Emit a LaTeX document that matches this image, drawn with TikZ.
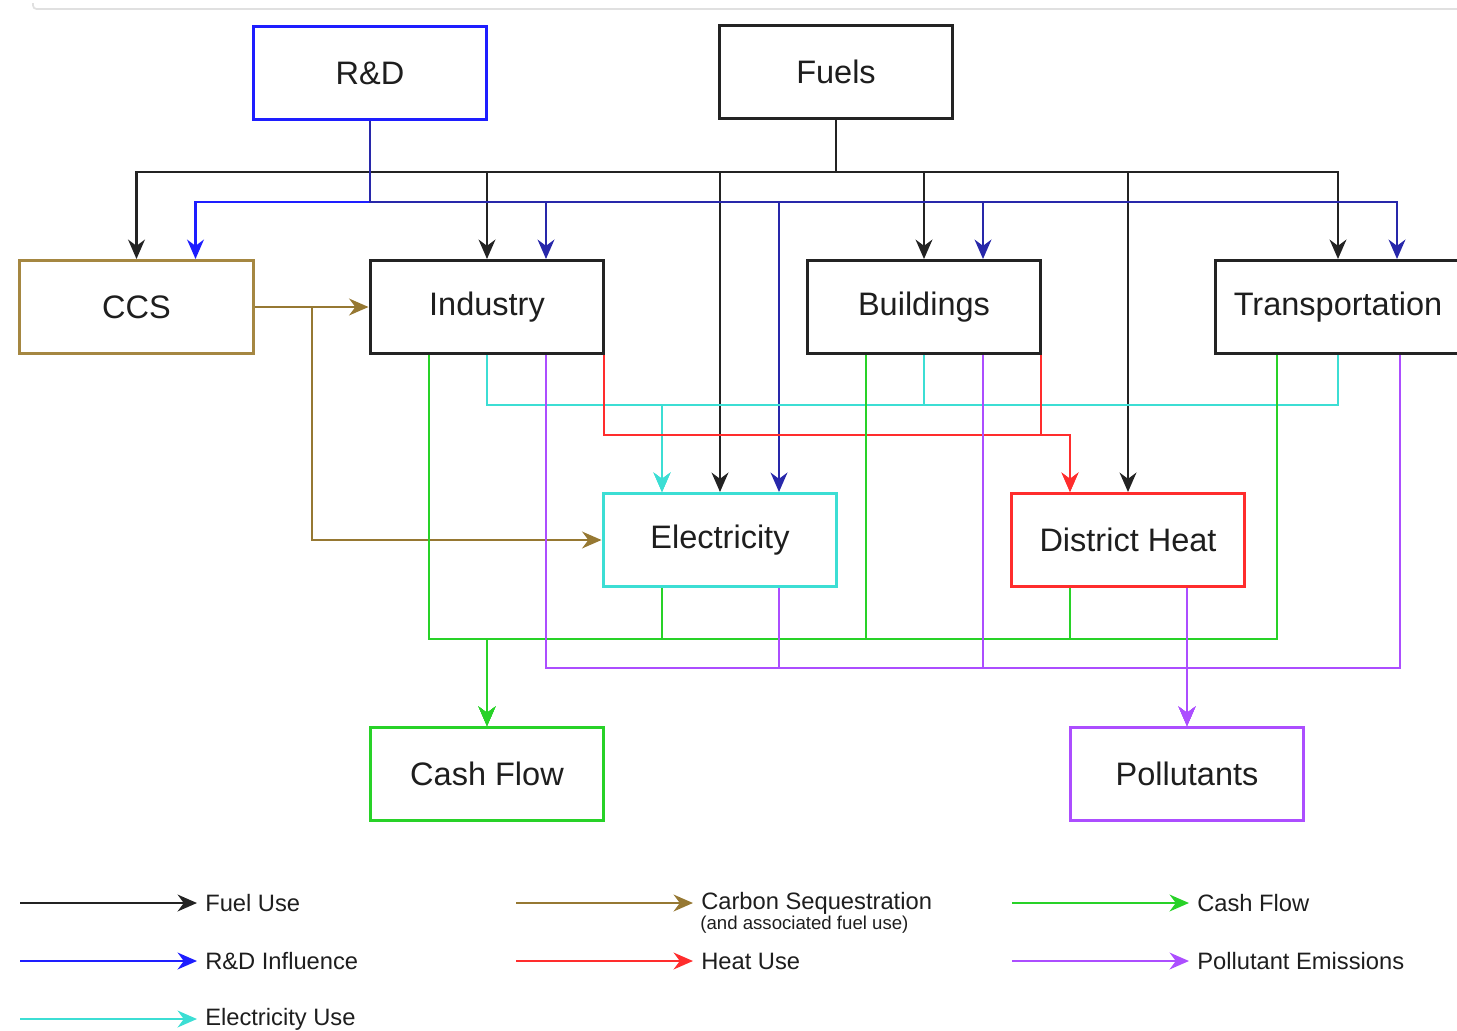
\documentclass[tikz,border=0pt]{standalone}
\usepackage{fontspec}
\setmainfont{Liberation Sans}
\usetikzlibrary{arrows.meta,positioning,calc}
\definecolor{txt}{RGB}{30,30,30}
\definecolor{fuelc}{RGB}{35,35,35}
\definecolor{rdc}{RGB}{30,30,255}
\definecolor{rdn}{RGB}{40,40,170}
\definecolor{ccsc}{RGB}{150,120,50}
\definecolor{ccsb}{RGB}{165,135,65}
\definecolor{elc}{RGB}{60,222,212}
\definecolor{heatc}{RGB}{255,45,45}
\definecolor{cashc}{RGB}{40,210,40}
\definecolor{polc}{RGB}{172,78,255}

\begin{document}
\begin{tikzpicture}[
  x=0.02cm, y=-0.02cm,
  >={Stealth[length=11pt,width=9.5pt,inset=3.5pt]},
  every node/.style={font=\fontsize{18.5}{22}\selectfont, text=txt},
  box/.style={draw, line width=1.7pt, minimum width=4.68cm, minimum height=1.86cm,
              inner sep=0pt, fill=white},
  link/.style={line width=1.6pt},
  fuel/.style={link, draw=fuelc},
  rnd/.style={link, draw=rdn},
  rndl/.style={link, draw=rdc},
  elu/.style={link, draw=elc},
  heat/.style={link, draw=heatc},
  seq/.style={link, draw=ccsc},
  cash/.style={link, draw=cashc},
  pol/.style={link, draw=polc},
  lgd/.style={font=\fontsize{13.5}{16}\selectfont, anchor=west, inner sep=4.5pt},
  lgsub/.style={font=\fontsize{10.6}{12}\selectfont, anchor=west, inner sep=0pt}
]
  \useasboundingbox (0,0) rectangle (1457,1031);
  \draw[black!12, line width=1pt, rounded corners=2pt] (33,3) |- (1457,9);

  % boxes
  \node[box, draw=rdc]   (rd)    at (370,73)    {R\&D};
  \node[box, draw=fuelc] (fuels) at (836,72)    {Fuels};
  \node[box, draw=ccsb]  (ccs)   at (136.5,307) {CCS};
  \node[box, draw=fuelc] (ind)   at (487,307)   {Industry};
  \node[box, draw=fuelc] (bld)   at (924,307)   {Buildings};
  \node[box, draw=fuelc, minimum width=4.92cm] (trn) at (1338,307) {Transportation};
  \node[box, draw=elc]   (elec)  at (720,540)   {Electricity};
  \node[box, draw=heatc] (dh)    at (1128,540)  {District Heat};
  \node[box, draw=cashc] (cfl)   at (487,774)   {Cash Flow};
  \node[box, draw=polc]  (poll)  at (1187,774)  {Pollutants};

  % bus levels
  \coordinate (fbus) at (836,172);
  \coordinate (rbus) at (370,202);
  \coordinate (cbus) at (0,405);
  \coordinate (hbus) at (0,435);
  \coordinate (gbus) at (0,639);
  \coordinate (pbus) at (0,668);
  \coordinate (ein) at ($(elec.north)+(-58,0)$);
  \coordinate (hin) at ($(dh.north)+(-58,0)$);

  % fuel use
  \foreach \n in {ccs,ind,elec,bld,dh,trn}
    \draw[fuel,->] (fuels.south) -- (fbus) -| (\n.north);
  % R&D influence
  \draw[rndl,->] (rd.south) -- (rbus) -| ($(ccs.north)+(59,0)$);
  \foreach \n in {ind,elec,bld,trn}
    \draw[rnd,->] (rd.south) -- (rbus) -| ($(\n.north)+(59,0)$);
  % electricity use
  \foreach \n in {ind,bld,trn}
    \draw[elu,->] (\n.south) |- (ein |- cbus) -- (ein);
  % heat use
  \foreach \n in {ind,bld}
    \draw[heat,->] ($(\n.south east)+(-1.5,0)$) |- (hin |- hbus) -- (hin);
  % carbon sequestration
  \draw[seq,->] (ccs.east) -- (ind.west);
  \draw[seq,->] (ccs.east) -- (ccs.east -| 312,0) |- (elec.west);
  % cash flow
  \foreach \n in {ind,elec,bld,dh}
    \draw[cash,->] ($(\n.south)+(-58,0)$) |- (cfl.north |- gbus) -- (cfl.north);
  \draw[cash,->] ($(trn.south)+(-61,0)$) |- (cfl.north |- gbus) -- (cfl.north);
  % pollutant emissions
  \foreach \n in {ind,elec,bld}
    \draw[pol,->] ($(\n.south)+(59,0)$) |- (poll.north |- pbus) -- (poll.north);
  \draw[pol,->] ($(trn.south)+(62,0)$) |- (poll.north |- pbus) -- (poll.north);
  \draw[pol,->] ($(dh.south)+(59,0)$) -- (poll.north);

  % legend
  \foreach \i/\x/\y/\sty/\lab in {1/20/903/fuel/Fuel Use, 2/20/961/rndl/R\&D Influence,
      3/20/1019/elu/Electricity Use, 4/516/903/seq/Carbon Sequestration,
      5/516/961/heat/Heat Use, 6/1012/903/cash/Cash Flow,
      7/1012/961/pol/Pollutant Emissions} {
    \coordinate (ls\i) at (\x,\y);
    \node[lgd] (lg\i) at (\x+177,\y) {\lab};
    \draw[\sty,->] (ls\i) -- (lg\i.west);
  }
  \node[lgsub] (lgnote) at (700,925) {(and associated fuel use)};
\end{tikzpicture}
\end{document}
